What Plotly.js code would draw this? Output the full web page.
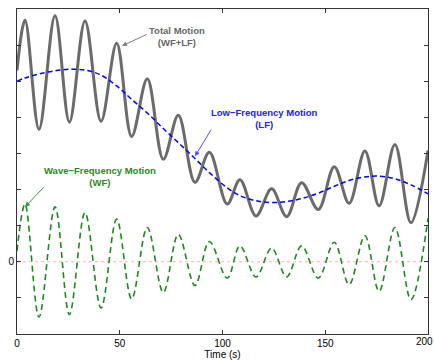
<!DOCTYPE html>
<html>
<head>
<meta charset="utf-8">
<script src="https://cdn.plot.ly/plotly-3.0.1.min.js"></script>
<style>html,body{margin:0;padding:0;background:#fff;}#chart{width:434px;height:361px;}</style>
</head>
<body>
<div id="chart"></div>
<script>
// Sample times (s): extremes of the wave-frequency oscillation
const time = [0, 3.9, 10.7, 18.5, 25.5, 33.1, 40.9, 48.5, 55.8, 63.4, 71.2, 78.5, 86.6, 93.6,
  102.3, 108.5, 116.3, 123.9, 131.2, 138.5, 146.6, 154.4, 161.6, 169.3, 176.2, 183.9, 191.7, 200];
// Wave-frequency motion (WF)
const wf = [0.3, 1.6, -1.53, 1.52, -1.46, 1.36, -1.28, 1.18, -1.03, 0.95, -0.85, 0.76, -0.66, 0.56,
  -0.45, 0.44, -0.42, 0.38, -0.42, 0.44, -0.45, 0.54, -0.63, 0.72, -0.82, 0.95, -1.05, 1.2];
// Low-frequency motion (LF) at the same times
const lf = [5.0, 5.09, 5.2, 5.29, 5.33, 5.31, 5.17, 4.87, 4.5, 4.12, 3.69, 3.3, 2.86, 2.47,
  2.05, 1.83, 1.69, 1.64, 1.67, 1.75, 1.9, 2.09, 2.25, 2.35, 2.37, 2.3, 2.13, 1.88];
// Total motion = WF + LF
const total = time.map((_, i) => wf[i] + lf[i]);

const yTickVals = [-2, -1, 0, 1, 2, 3, 4, 5, 6, 7];
const yTickText = ['', '', '0', '', '', '', '', '', '', ''];
const xTickVals = [0, 50, 100, 150, 200];
const xTickText = ['0', '50', '100', '150', ''];
const lastXLabel = '200';

const traces = [
  {x: time, y: total, mode: 'lines', line: {color: '#6b6b6b', width: 3, shape: 'spline', smoothing: 1}, hoverinfo: 'skip'},
  {x: time, y: lf, mode: 'lines', line: {color: '#0000ff', width: 1.5, dash: '5px,3px', shape: 'spline', smoothing: 1}, hoverinfo: 'skip'},
  {x: time, y: wf, mode: 'lines', line: {color: '#1b8a1b', width: 1.6, dash: '6px,4px', shape: 'spline', smoothing: 1}, hoverinfo: 'skip'}
];

const annFont = {family: 'Liberation Sans, Arial, sans-serif', size: 9.5};
const layout = {
  width: 434, height: 361,
  margin: {l: 17, r: 6, t: 9, b: 27},
  paper_bgcolor: '#fff', plot_bgcolor: '#fff',
  showlegend: false,
  font: {family: 'Liberation Sans, Arial, sans-serif', size: 10, color: '#000'},
  xaxis: {
    range: [0, 200], tickvals: xTickVals, ticktext: xTickText, ticks: 'inside', ticklen: 4, tickcolor: '#333',
    showline: true, linecolor: '#333', linewidth: 1, mirror: 'ticks',
    showgrid: false, zeroline: false,
    tickfont: {size: 10}, title: {text: 'Time (s)', font: {size: 10}, standoff: 2}
  },
  yaxis: {
    range: [-2, 7], tickvals: yTickVals, ticktext: yTickText, ticks: 'inside', ticklen: 4, tickcolor: '#333',
    showline: true, linecolor: '#333', linewidth: 1, mirror: 'ticks',
    showgrid: false, zeroline: false, tickfont: {size: 10}
  },
  shapes: [
    {type: 'line', xref: 'paper', x0: 0, x1: 1, yref: 'y', y0: 0, y1: 0,
     line: {color: '#ffb0b0', width: 1, dash: 'dot'}, layer: 'below'}
  ],
  annotations: [
    {xref: 'paper', yref: 'paper', x: 1, y: 0, xanchor: 'right', yanchor: 'top', xshift: 6, yshift: -1,
     text: lastXLabel, showarrow: false, borderpad: 0, font: {size: 10, color: '#000'}},
    {x: 77.9, y: 6.25, text: '<b>Total Motion<br>(WF+LF)</b>', showarrow: false, font: Object.assign({}, annFont, {color: '#666666'})},
    {x: 51.1, y: 5.98, ax: 26, ay: -12, text: '', showarrow: true, arrowhead: 2, arrowsize: 1, arrowwidth: 1, arrowcolor: '#808080'},
    {x: 120.2, y: 3.98, text: '<b>Low\u2212Frequency Motion<br>(LF)</b>', showarrow: false, font: Object.assign({}, annFont, {color: '#2020ff'})},
    {x: 86.6, y: 2.92, ax: 17, ay: -28, text: '', showarrow: true, arrowhead: 2, arrowsize: 1, arrowwidth: 1, arrowcolor: '#5050ff'},
    {x: 40.4, y: 2.37, text: '<b>Wave\u2212Frequency Motion<br>(WF)</b>', showarrow: false, font: Object.assign({}, annFont, {color: '#1e8c1e'})},
    {x: 3.9, y: 1.52, ax: 20, ay: -21, text: '', showarrow: true, arrowhead: 2, arrowsize: 1, arrowwidth: 1, arrowcolor: '#30a030'}
  ]
};

Plotly.newPlot('chart', traces, layout, {displayModeBar: false, staticPlot: true});
</script>
</body>
</html>
